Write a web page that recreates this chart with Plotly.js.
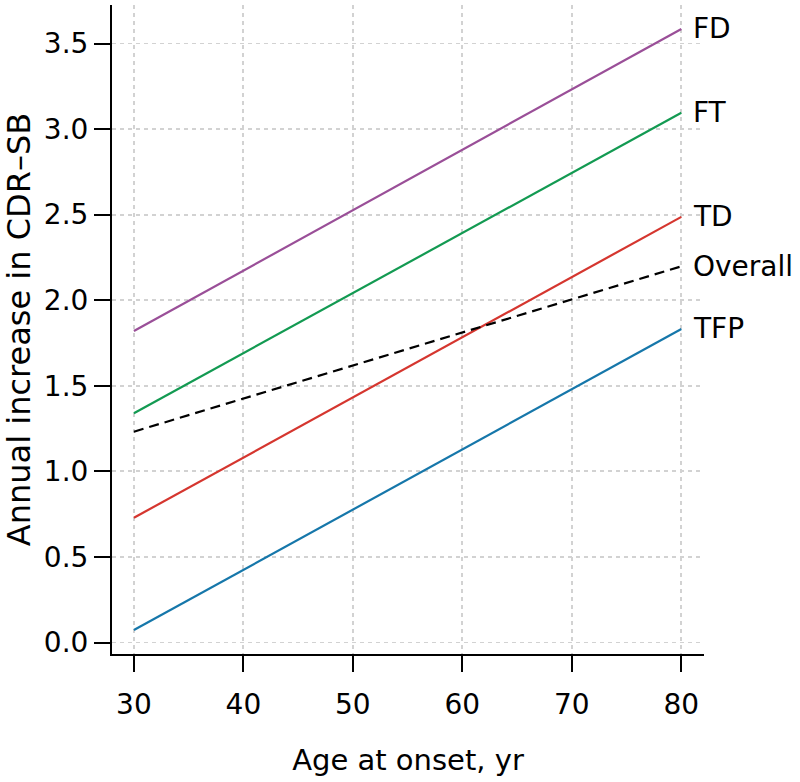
<!DOCTYPE html>
<html>
<head>
<meta charset="utf-8">
<script src="https://cdn.plot.ly/plotly-3.0.1.min.js"></script>
<style>
  html, body { margin: 0; padding: 0; background: #fff; }
  #chart { width: 800px; height: 782px; }
</style>
</head>
<body>
<div id="chart"></div>
<script>
const ages = [30, 80];
const groups = ["FD", "FT", "TD", "Overall", "TFP"];
const fdValues = [1.82, 3.585];
const ftValues = [1.34, 3.095];
const tdValues = [0.729, 2.487];
const overallValues = [1.232, 2.198];
const tfpValues = [0.073, 1.832];
const xTicks = [30, 40, 50, 60, 70, 80];
const yTicks = [0, 0.5, 1, 1.5, 2, 2.5, 3, 3.5];

const seriesValues = [fdValues, ftValues, tdValues, overallValues, tfpValues];
const colors = ["#9a4f98", "#139a52", "#d5362f", "#000000", "#1677aa"];
const dashes = ["solid", "solid", "solid", "10px,6px", "solid"];

const font = "DejaVu Sans, Arial, sans-serif";

const traces = groups.map((g, i) => ({
    x: ages,
    y: seriesValues[i],
    type: "scatter",
    mode: "lines",
    name: g,
    line: {color: colors[i], width: 2.2, dash: dashes[i]},
    hoverinfo: "skip"
}));

const annotations = groups.map((g, i) => ({
    x: ages[1],
    y: seriesValues[i][1],
    xref: "x",
    yref: "y",
    text: g,
    showarrow: false,
    xanchor: "left",
    yanchor: "middle",
    xshift: 10,
    font: {family: font, size: 28, color: "#000"}
}));

const layout = {
    width: 800,
    height: 782,
    margin: {t: 5, r: 96, b: 128, l: 112},
    paper_bgcolor: "#fff",
    plot_bgcolor: "#fff",
    showlegend: false,
    font: {family: font, color: "#000"},
    xaxis: {
        range: [28, 82.07],
        tickvals: xTicks,
        ticktext: xTicks.map(String),
        showline: true,
        linecolor: "#000",
        linewidth: 2,
        ticks: "outside",
        ticklen: 16,
        tickwidth: 2,
        tickcolor: "#000",
        ticklabelstandoff: 8,
        tickfont: {family: font, size: 28, color: "#000"},
        showgrid: true,
        gridcolor: "#d2d2d2",
        gridwidth: 1.8,
        griddash: "4px,4px",
        zeroline: false,
        title: {text: "Age at onset, yr", font: {family: font, size: 29, color: "#000"}, standoff: 30}
    },
    yaxis: {
        range: [-0.067, 3.725],
        tickvals: yTicks,
        ticktext: yTicks.map(v => v.toFixed(1)),
        showline: true,
        linecolor: "#000",
        linewidth: 2,
        ticks: "outside",
        ticklen: 16,
        tickwidth: 2,
        tickcolor: "#000",
        ticklabelstandoff: 0,
        tickfont: {family: font, size: 28, color: "#000"},
        showgrid: true,
        gridcolor: "#d2d2d2",
        gridwidth: 1.8,
        griddash: "4px,4px",
        zeroline: false,
        title: {text: "Annual increase in CDR\u2013SB", font: {family: font, size: 32, color: "#000"}, standoff: 8}
    },
    annotations: annotations
};

Plotly.newPlot("chart", traces, layout, {displayModeBar: false, staticPlot: true});
</script>
</body>
</html>
